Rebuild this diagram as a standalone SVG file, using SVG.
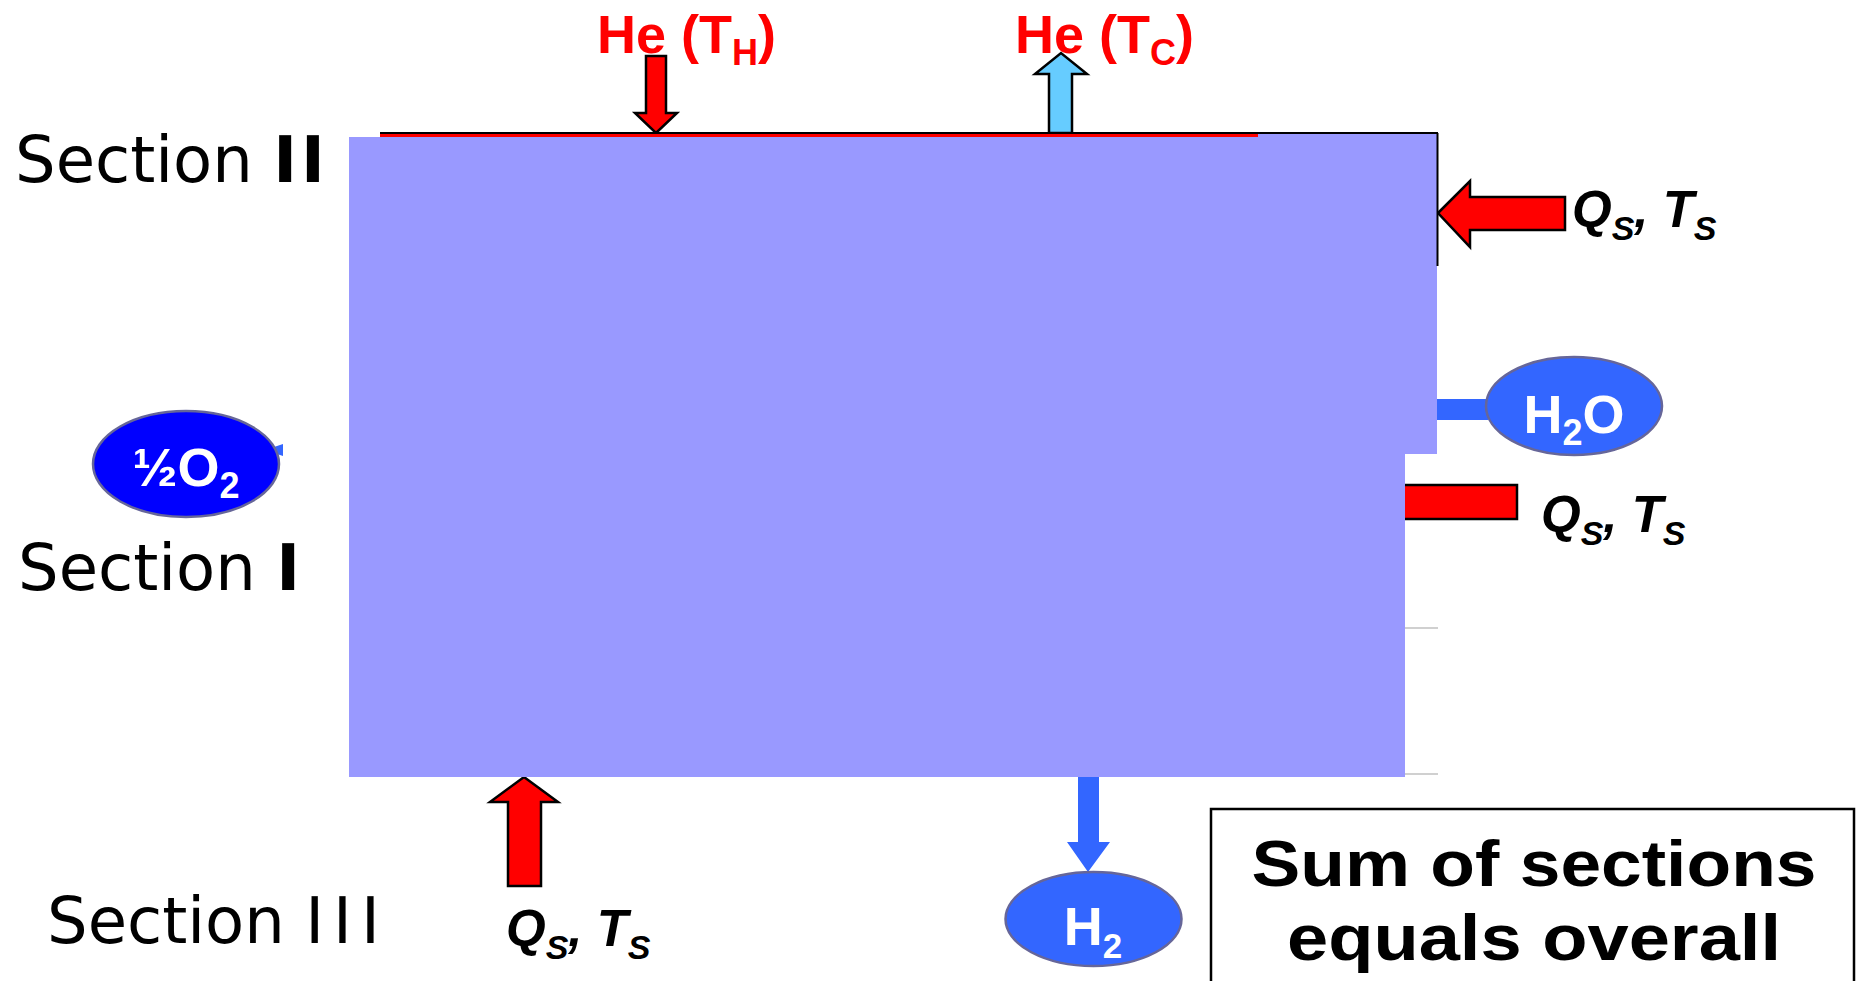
<svg xmlns="http://www.w3.org/2000/svg" width="1857" height="981" viewBox="0 0 1857 981">
<style>
.sec{font-family:"DejaVu Sans",Verdana,sans-serif;font-size:64px;fill:#000}
.he{font-family:"Liberation Sans",Arial,sans-serif;font-weight:bold;font-size:54px;fill:#FF0000}
.q{font-family:"Liberation Sans",Arial,sans-serif;font-weight:bold;font-style:italic;font-size:51px;fill:#000}
.sp{font-family:"Liberation Sans",Arial,sans-serif;font-weight:bold;font-size:54px;fill:#fff}
.sum{font-family:"Liberation Sans",Arial,sans-serif;font-weight:bold;font-size:64px;fill:#000}
.red{fill:#FF0000;stroke:#000;stroke-width:2.5;stroke-linejoin:miter}
.purple{fill:#9999FF}
.ell{stroke:#666699;stroke-width:2.5}
</style>
<rect width="1857" height="981" fill="#fff"/>

<g id="connectors">
  <rect class="red" x="1380" y="485" width="137" height="34" stroke-width="3"/>
  <rect x="1430" y="399" width="58" height="21" fill="#3366FF"/>
  <polygon class="red" points="646,56 666,56 666,113 677,113 656,133 635,113 646,113"/>
  <polygon points="1049,133 1049,74 1035,74 1061,53 1087,74 1072,74 1072,133" fill="#66CCFF" stroke="#000" stroke-width="2.5"/>
  <polygon class="red" points="1438,213 1470,181 1470,197 1565,197 1565,230 1470,230 1470,247"/>
  <polygon class="red" points="508,886 508,802 490,802 524,777 558,802 541,802 541,886"/>
  <polygon points="1078,770 1099,770 1099,842 1110,842 1088,872 1067,842 1078,842" fill="#3366FF"/>
  <polygon points="265,450 283,444 283,456" fill="#3366FF"/>
</g>

<g id="section-block">
  <rect x="380" y="133" width="880" height="5" fill="#FF0000"/>
  <rect class="purple" x="349" y="137" width="1056" height="640"/>
  <rect class="purple" x="1258" y="134" width="179" height="320"/>
  <line x1="380" y1="133" x2="1438" y2="133" stroke="#000" stroke-width="2"/>
  <line x1="1437.5" y1="133" x2="1437.5" y2="266" stroke="#000" stroke-width="2"/>
  <line x1="1405" y1="628" x2="1438" y2="628" stroke="#c0c0c0" stroke-width="1.5"/>
  <line x1="1405" y1="774" x2="1438" y2="774" stroke="#c0c0c0" stroke-width="1.5"/>
</g>

<g id="section-labels">
  <text class="sec" x="15" y="182">Section <tspan font-weight="bold" letter-spacing="4">II</tspan></text>
  <text class="sec" x="18" y="590">Section <tspan font-weight="bold">I</tspan></text>
  <text class="sec" x="47" y="943">Section <tspan letter-spacing="9">III</tspan></text>
</g>

<g id="he-th">
  <text class="he" x="597" y="53">He (T<tspan font-size="36" dy="12">H</tspan><tspan dy="-12">)</tspan></text>
</g>
<g id="he-tc">
  <text class="he" x="1015" y="53">He (T<tspan font-size="36" dy="12">C</tspan><tspan dy="-12">)</tspan></text>
</g>

<g id="qs-upper">
  <text class="q" x="1572" y="227">Q<tspan font-size="34" dy="13">S</tspan><tspan dy="-13">, T</tspan><tspan font-size="34" dy="13">S</tspan></text>
</g>
<g id="qs-lower">
  <text class="q" x="1541" y="532">Q<tspan font-size="34" dy="13">S</tspan><tspan dy="-13">, T</tspan><tspan font-size="34" dy="13">S</tspan></text>
</g>
<g id="qs-bottom">
  <text class="q" x="506" y="946">Q<tspan font-size="34" dy="13">S</tspan><tspan dy="-13">, T</tspan><tspan font-size="34" dy="13">S</tspan></text>
</g>

<g id="node-h2o">
  <ellipse class="ell" cx="1574" cy="406" rx="88" ry="49" fill="#3366FF"/>
  <text class="sp" x="1574" y="433" text-anchor="middle">H<tspan font-size="36" dy="12">2</tspan><tspan dy="-12">O</tspan></text>
</g>

<g id="node-o2">
  <ellipse class="ell" cx="186" cy="464" rx="93" ry="53" fill="#0000FF"/>
  <text class="sp" x="186" y="486" text-anchor="middle">½O<tspan font-size="36" dy="12">2</tspan></text>
</g>

<g id="node-h2">
  <ellipse class="ell" cx="1093.5" cy="919" rx="88" ry="47" fill="#3366FF"/>
  <text class="sp" x="1093" y="945" font-size="52" text-anchor="middle">H<tspan font-size="35" dy="13">2</tspan></text>
</g>

<g id="note-box">
  <rect x="1211" y="809" width="643" height="200" fill="#fff" stroke="#000" stroke-width="2.5"/>
  <text class="sum" x="1534" y="886" text-anchor="middle" textLength="565" lengthAdjust="spacingAndGlyphs">Sum of sections</text>
  <text class="sum" x="1534" y="960" text-anchor="middle" textLength="494" lengthAdjust="spacingAndGlyphs">equals overall</text>
</g>
</svg>
